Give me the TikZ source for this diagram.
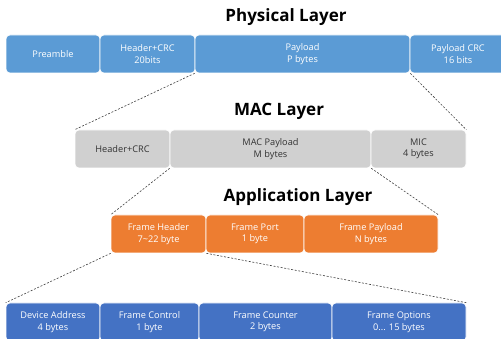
\documentclass[tikz,border=0pt]{standalone}
\usepackage{fontspec}
\setmainfont{Open Sans}
\definecolor{phyblue}{HTML}{5B9BD5}
\definecolor{macgray}{HTML}{D0D0D0}
\definecolor{appor}{HTML}{ED7D31}
\definecolor{fhblue}{HTML}{4472C4}
\begin{document}
\begin{tikzpicture}[x=1pt,y=-1pt,
  field/.style={rounded corners=4pt, draw=white, line width=0.6pt, inner sep=0pt,
    align=center, font=\fontsize{9.2}{11.5}\selectfont, text=white},
  phy/.style={field, fill=phyblue},
  mac/.style={field, fill=macgray, draw=white, text=black!80},
  app/.style={field, fill=appor},
  fhd/.style={field, fill=fhblue},
  layertitle/.style={font=\bfseries\fontsize{17}{20}\selectfont, text=black},
  zoomline/.style={draw=black!75, line width=0.6pt, dash pattern=on 2pt off 1.6pt}]
\useasboundingbox (0,0) rectangle (501,339);
% helper: a field spanning x1..x2 and y1..y2
\newcommand\fieldbox[7]{%
  \node[#1, minimum width={#4-#3}, minimum height={#6-#5}] (#2) at ({(#3+#4)/2},{(#5+#6)/2}) {#7};}

% Physical layer
\node[layertitle] (tphy) at (286,17) {Physical Layer};
\fieldbox{phy}{pre}{6}{100}{35}{73}{Preamble}
\fieldbox{phy}{phdr}{100}{195}{35}{73}{Header+CRC\\20bits}
\fieldbox{phy}{ppay}{195}{410}{35}{73}{Payload\\P bytes}
\fieldbox{phy}{pcrc}{410}{506}{35}{73}{Payload CRC\\16 bits}

% MAC layer
\node[layertitle] (tmac) at (279,111) {MAC Layer};
\fieldbox{mac}{mhdr}{75}{170}{130}{168}{Header+CRC}
\fieldbox{mac}{mpay}{170}{371}{130}{168}{MAC Payload\\M bytes}
\fieldbox{mac}{mmic}{371}{466}{130}{168}{MIC\\4 bytes}

% Application layer
\node[layertitle] (tapp) at (298,197) {Application Layer};
\fieldbox{app}{fhdr}{111}{206}{215}{253}{Frame Header\\7\textasciitilde 22 byte}
\fieldbox{app}{fport}{206}{304}{215}{253}{Frame Port\\1 byte}
\fieldbox{app}{fpay}{304}{438}{215}{253}{Frame Payload\\N bytes}

% Frame header fields
\fieldbox{fhd}{dev}{6}{100}{303}{341}{Device Address\\4 bytes}
\fieldbox{fhd}{fctl}{100}{199}{303}{341}{Frame Control\\1 byte}
\fieldbox{fhd}{fcnt}{199}{332}{303}{341}{Frame Counter\\2 bytes}
\fieldbox{fhd}{fopt}{332}{466}{303}{341}{Frame Options\\0... 15 bytes}

% expansion lines
\draw[zoomline] (ppay.south west) -- (mhdr.north west);
\draw[zoomline] (ppay.south east) -- (mmic.north east);
\draw[zoomline] (mpay.south west) -- (fhdr.north west);
\draw[zoomline] (mpay.south east) -- (fpay.north east);
\draw[zoomline] (fhdr.south west) -- (dev.north west);
\draw[zoomline] (fhdr.south east) -- (fopt.north east);
\end{tikzpicture}
\end{document}
